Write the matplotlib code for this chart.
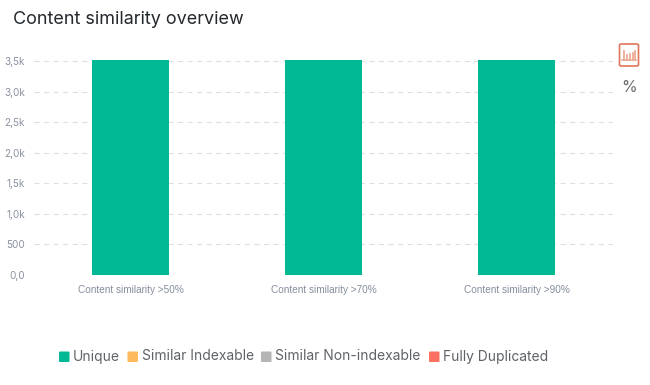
import matplotlib
matplotlib.use('Agg')
import matplotlib.pyplot as plt
from matplotlib.patches import FancyBboxPatch
from matplotlib.lines import Line2D

W, H = 650, 385

categories = ['Content similarity >50%', 'Content similarity >70%', 'Content similarity >90%']
unique = [3520, 3520, 3520]
similar_indexable = [0, 0, 0]
similar_nonindexable = [0, 0, 0]
fully_duplicated = [0, 0, 0]
tick_values = [0, 500, 1000, 1500, 2000, 2500, 3000, 3500]
tick_labels = ['0,0', '500', '1,0k', '1,5k', '2,0k', '2,5k', '3,0k', '3,5k']
legend_names = ['Unique', 'Similar Indexable', 'Similar Non-indexable', 'Fully Duplicated']
legend_colors = ['#00b894', '#fdbb5e', '#b5b5b5', '#fb7060']

plt.rcParams['font.family'] = ['Inter', 'DejaVu Sans']

fig = plt.figure(figsize=(W / 100, H / 100), dpi=100)
ax = fig.add_axes([34 / W, 1 - 275 / H, 579 / W, 215 / H])

x = range(len(categories))
bottom = [0, 0, 0]
for vals, col in zip([unique, similar_indexable, similar_nonindexable, fully_duplicated], legend_colors):
    ax.bar(x, vals, width=0.4, bottom=bottom, color=col, zorder=3)
    bottom = [b + v for b, v in zip(bottom, vals)]

ax.set_xlim(-0.5, 2.5)
ax.set_ylim(0, 3520)
ax.set_yticks(tick_values)
ax.set_yticklabels(tick_labels, fontsize=7.2, color='#8a92a0')
ax.set_xticks(list(x))
ax.set_xticklabels(categories, fontsize=7.22, color='#858d9c', family=['Liberation Sans'])
ax.tick_params(axis='both', length=0)
ax.tick_params(axis='y', pad=6.5)
ax.tick_params(axis='x', pad=7)
ax.grid(axis='y', color='#dedede', linestyle=(0, (4.5, 4.11)), linewidth=0.8, zorder=0)
for s in ax.spines.values():
    s.set_visible(False)

fig.text(13 / W, 1 - 19 / H, 'Content similarity overview', fontsize=12.95, color='#23282d', va='center', ha='left')

# icon buttons on the right
def fx(px):
    return px / W

def fy(py):
    return 1 - py / H

orange = '#e0765a'
fig.add_artist(FancyBboxPatch((fx(619.5), fy(66)), 19 / W, 22 / H, boxstyle='round,pad=0,rounding_size=0.003',
                              fill=False, edgecolor=orange, linewidth=1.2, transform=fig.transFigure))
fig.add_artist(Line2D([fx(622), fx(636)], [fy(60), fy(60)], color='#eba58f', linewidth=1.1))
for px, top in zip([623.5, 626.5, 629.5, 632.5, 635], [51, 55, 54, 53, 51]):
    fig.add_artist(Line2D([fx(px), fx(px)], [fy(59.5), fy(top)], color='#eba58f', linewidth=1.2))
fig.text(fx(629), fy(87), '%', fontsize=11.5, color='#6e6e6e', ha='center', va='center')

# legend
xs = [59, 127.5, 261, 429]
for px, name, col in zip(xs, legend_names, legend_colors):
    fig.add_artist(FancyBboxPatch((fx(px), fy(362)), 10.5 / W, 10.5 / H, boxstyle='round,pad=0,rounding_size=0.002',
                                  facecolor=col, edgecolor='none', transform=fig.transFigure))
    fig.text(fx(px + 14), fy(356.5), name, fontsize=9.95, color='#5f6368', va='center', ha='left')

fig.savefig('out.png', dpi=100, facecolor='white')
